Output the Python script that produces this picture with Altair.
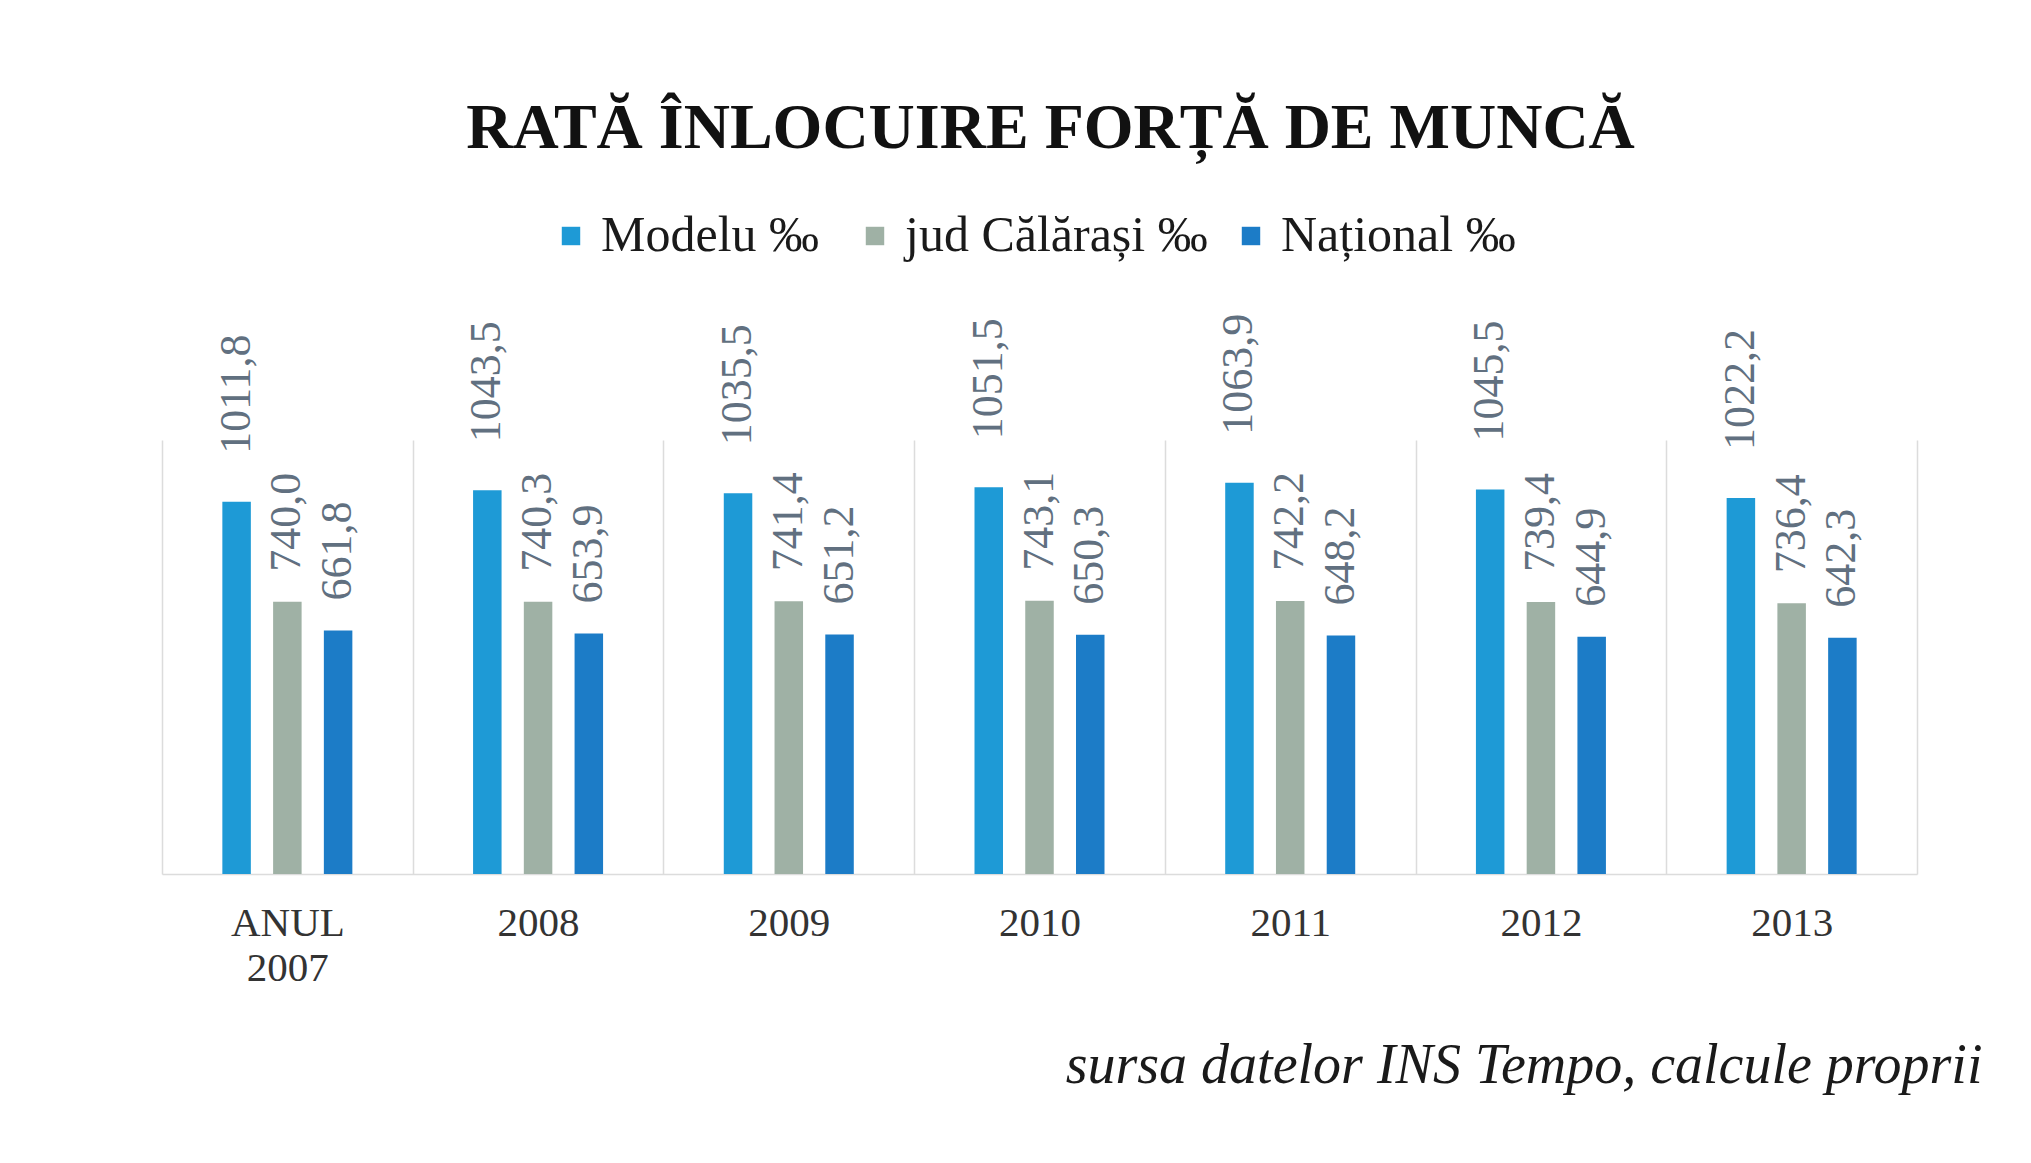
import altair as alt
import pandas as pd

years = ["ANUL 2007", "2008", "2009", "2010", "2011", "2012", "2013"]
series = ["Modelu  ‰", "jud Călărași ‰", "Național ‰"]
modelu = [1011.8, 1043.5, 1035.5, 1051.5, 1063.9, 1045.5, 1022.2]
calarasi = [740.0, 740.3, 741.4, 743.1, 742.2, 739.4, 736.4]
national = [661.8, 653.9, 651.2, 650.3, 648.2, 644.9, 642.3]
colors = ["#1e9ad6", "#9fb1a5", "#1c7cc7"]

rows = []
for name, vals in zip(series, [modelu, calarasi, national]):
    for y, v in zip(years, vals):
        rows.append({"an": y, "serie": name, "valoare": v})
df = pd.DataFrame(rows)

SERIF = "Liberation Serif"

base = alt.Chart(df).encode(
    x=alt.X(
        "an:N",
        sort=years,
        scale=alt.Scale(paddingInner=0, paddingOuter=0),
        axis=alt.Axis(
            title="sursa datelor INS Tempo, calcule proprii",
            titleFont=SERIF,
            titleFontSize=56,
            titleFontStyle="italic",
            titleFontWeight="normal",
            titleColor="#1a1a1a",
            titleAlign="right",
            titleBaseline="alphabetic",
            titleX=1820,
            titleY=208,
            labelAngle=0,
            labelFont=SERIF,
            labelFontSize=41,
            labelColor="#333333",
            labelBaseline="top",
            labelPadding=29,
            labelLineHeight=45,
            labelExpr="split(datum.label, ' ')",
            ticks=False,
            grid=True,
            gridColor="#dcdcdc",
            gridWidth=1.5,
            tickBand="extent",
            domainColor="#dcdcdc",
            domainWidth=1.5,
        ),
    ),
    xOffset=alt.XOffset("serie:N", sort=series,
                        scale=alt.Scale(paddingInner=0, paddingOuter=0.97)),
    y=alt.Y("valoare:Q", scale=alt.Scale(domain=[0, 1180]), axis=None),
)

bars = base.mark_bar(width=28.5).encode(
    color=alt.Color(
        "serie:N",
        sort=series,
        scale=alt.Scale(domain=series, range=colors),
        legend=alt.Legend(
            title=None,
            orient="none",
            legendX=384,
            legendY=-229,
            direction="horizontal",
            symbolType="square",
            symbolSize=340,
            symbolStrokeWidth=0,
            labelFont=SERIF,
            labelFontSize=50,
            labelColor="#1a1a1a",
            labelOffset=5,
            labelLimit=600,
            columnPadding=18,
            padding=0,
        ),
    )
)

lbl_common = dict(angle=270, align="left", baseline="middle", font=SERIF,
                  fontSize=44, color="#617080")

labels_m = base.transform_filter(alt.datum.serie == series[0]).transform_calculate(
    eticheta="replace(format(datum.valoare, '.1f'), '.', ',')"
).mark_text(dx=48, **lbl_common).encode(text="eticheta:N")

labels_o = base.transform_filter(alt.datum.serie != series[0]).transform_calculate(
    eticheta="replace(format(datum.valoare, '.1f'), '.', ',')"
).mark_text(dx=30, **lbl_common).encode(text="eticheta:N")

chart = alt.layer(bars, labels_m, labels_o).properties(
    width=1755,
    height=434,
    background="white",
    title=alt.TitleParams(
        "RATĂ ÎNLOCUIRE FORȚĂ DE MUNCĂ",
        font=SERIF,
        fontSize=64,
        fontWeight="bold",
        color="#111111",
        anchor="middle",
        frame="group",
        baseline="alphabetic",
        offset=-1,
        dx=11,
    ),
    padding={"left": 154, "top": 432, "right": 90, "bottom": 250},
    autosize=alt.AutoSizeParams(type="none"),
).configure_view(stroke=None)

chart.save("out.html", embed_options={"renderer": "svg", "actions": False})
